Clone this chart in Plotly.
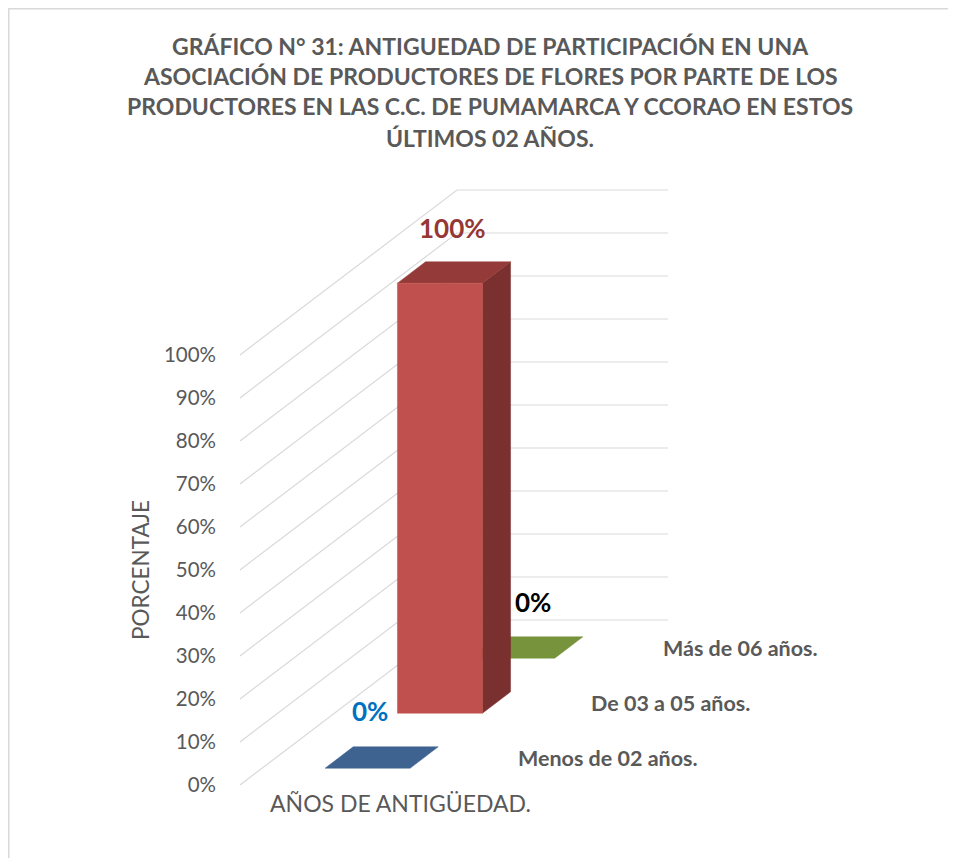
import plotly.graph_objects as go

# ---------------- data ----------------
series = ["Menos de 02 años.", "De 03 a 05 años.", "Más de 06 años."]
values = [0, 100, 0]            # percent
label_colors = ["#0070C0", "#953735", "#000000"]
front_colors = ["#4F81BD", "#C0504D", "#9BBB59"]
top_colors = ["#3E6391", "#943B39", "#77933C"]
side_colors = ["#33507A", "#7A302F", "#5F7630"]
y_ticks = [0, 10, 20, 30, 40, 50, 60, 70, 80, 90, 100]
y_tick_text = [f"{v}%" for v in y_ticks]
title_lines = [
    "GRÁFICO N° 31: ANTIGUEDAD DE PARTICIPACIÓN EN UNA",
    "ASOCIACIÓN DE PRODUCTORES DE FLORES POR PARTE DE LOS",
    "PRODUCTORES EN LAS C.C. DE PUMAMARCA Y CCORAO EN ESTOS",
    "ÚLTIMOS 02 AÑOS.",
]

# ---------------- layout (screen pixels; page body has an 8px margin) ----------------
OFF = 8
SW, SH = 956, 858
W, H = SW - OFF, SH - OFF
PL, PR, PT, PB = 230, 956, 150, 830        # plot area in screen px
ML, MR, MT, MB = PL - OFF, (SW - PR), PT - OFF, (SH - PB)
PX_PER_PCT = 4.3
Y_ZERO = 785.0                             # screen y of 0 % on the front plane
X0 = 240.0                                 # front-left floor corner (x units = screen px)
CAT_W = 211.0
BAR_W = 85.0
N_ROWS = len(series)
DEPTH_DX = 217.0
DEPTH_DY = 165.0 / PX_PER_PCT
ROW_DX = DEPTH_DX / N_ROWS
ROW_DY = DEPTH_DY / N_ROWS
BAR_DEPTH_FRAC = 28.0 / 72.0
GAP = (1 - BAR_DEPTH_FRAC) / 2
Y_MIN = -(PB - Y_ZERO) / PX_PER_PCT
Y_MAX = (Y_ZERO - PT) / PX_PER_PCT
LABEL_SHIFT = [(-12, 47), (-2, 45), (7, 46)]
FONT = "Lato"
GRAY = "#595959"


def proj(x, v, d):
    return x + d * ROW_DX, v + d * ROW_DY


fig = go.Figure()

gx, gy = [], []
for v in y_ticks:
    a = proj(X0, v, 0)
    b = proj(X0, v, N_ROWS)
    c = proj(X0 + CAT_W, v, N_ROWS)
    gx += [a[0], b[0], c[0], None]
    gy += [a[1], b[1], c[1], None]
fig.add_trace(go.Scatter(x=gx, y=gy, mode="lines",
                         line=dict(color="#D9D9D9", width=1.2),
                         hoverinfo="skip", showlegend=False))


def poly(pts, color):
    xs = [p[0] for p in pts] + [pts[0][0]]
    ys = [p[1] for p in pts] + [pts[0][1]]
    fig.add_trace(go.Scatter(x=xs, y=ys, mode="lines", fill="toself",
                             fillcolor=color, line=dict(color=color, width=0.5),
                             hoverinfo="skip", showlegend=False))


bx0 = X0 + (CAT_W - BAR_W) / 2
bx1 = bx0 + BAR_W
for i in reversed(range(N_ROWS)):
    v = values[i]
    d0 = i + GAP
    d1 = i + 1 - GAP
    if v > 0:
        poly([proj(bx1, 0, d0), proj(bx1, 0, d1), proj(bx1, v, d1), proj(bx1, v, d0)],
             side_colors[i])
        poly([proj(bx0, v, d0), proj(bx1, v, d0), proj(bx1, v, d1), proj(bx0, v, d1)],
             top_colors[i])
        poly([proj(bx0, 0, d0), proj(bx1, 0, d0), proj(bx1, v, d0), proj(bx0, v, d0)],
             front_colors[i])
    else:
        poly([proj(bx0, 0, d0), proj(bx1, 0, d0), proj(bx1, 0, d1), proj(bx0, 0, d1)],
             top_colors[i])

annotations = []
for i in range(N_ROWS):
    cx, cy = proj((bx0 + bx1) / 2, values[i], i + 0.5)
    annotations.append(dict(x=cx, y=cy, xref="x", yref="y", text=f"<b>{values[i]}%</b>",
                            showarrow=False, xshift=LABEL_SHIFT[i][0], yshift=LABEL_SHIFT[i][1],
                            font=dict(family=FONT, size=26, color=label_colors[i]),
                            xanchor="center", yanchor="middle"))
    sx, sy = proj(X0 + CAT_W, 0, i + 0.5)
    annotations.append(dict(x=sx, y=sy, xref="x", yref="y",
                            text=f"<b>{series[i]}</b>", showarrow=False, xshift=29,
                            font=dict(family=FONT, size=21.5, color=GRAY),
                            xanchor="left", yanchor="middle"))

for k, line in enumerate(title_lines):
    annotations.append(dict(x=490, y=[46, 76, 106, 138][k], xref="paper", yref="paper",
                            text=f"<b>{line}</b>", showarrow=False,
                            font=dict(family=FONT, size=23, color=GRAY),
                            xanchor="center", yanchor="middle"))

annotations.append(dict(x=140, y=570, text="PORCENTAJE", textangle=-90, showarrow=False,
                        font=dict(family=FONT, size=22.5, color=GRAY),
                        xanchor="center", yanchor="middle"))
annotations.append(dict(x=400, y=803, text="AÑOS DE ANTIGÜEDAD.", showarrow=False,
                        font=dict(family=FONT, size=23, color=GRAY),
                        xanchor="center", yanchor="middle"))

PW = PR - PL
PH = PB - PT
for a in annotations:
    if a.get("xref") != "x":
        a["x"] = (a["x"] - PL) / PW
        a["y"] = (PB - a["y"]) / PH
        a["xref"] = "paper"
        a["yref"] = "paper"

fig.update_layout(
    width=W, height=H,
    margin=dict(l=ML, r=MR, t=MT, b=MB, autoexpand=False),
    paper_bgcolor="white", plot_bgcolor="white",
    xaxis=dict(range=[PL, PR], visible=False, fixedrange=True),
    yaxis=dict(range=[Y_MIN, Y_MAX], tickvals=y_ticks, ticktext=y_tick_text,
               showgrid=False, zeroline=False, showline=False, ticks="",
               ticklabelstandoff=13, automargin=False,
               tickfont=dict(family=FONT, size=20.5, color=GRAY)),
    annotations=annotations,
    shapes=[dict(type="rect", xref="paper", yref="paper",
                 x0=(8.8 - PL) / PW, x1=(1000 - PL) / PW,
                 y0=(PB - 900) / PH, y1=(PB - 8.8) / PH,
                 line=dict(color="#D9D9D9", width=1.5), fillcolor="rgba(0,0,0,0)",
                 layer="below")],
    showlegend=False,
)

fig.write_html("out.html")
